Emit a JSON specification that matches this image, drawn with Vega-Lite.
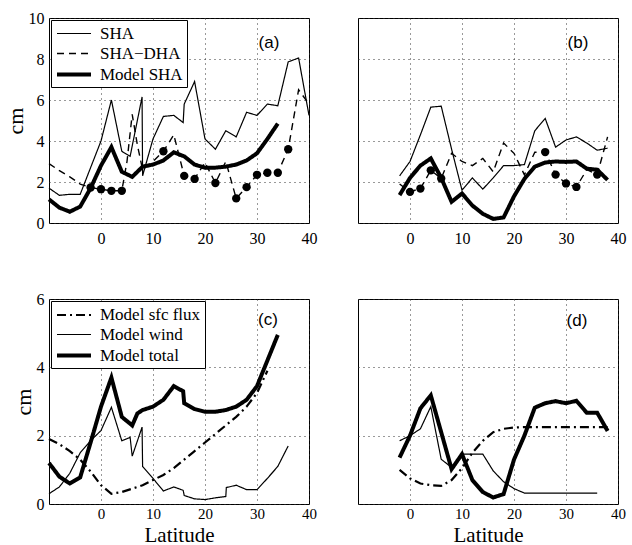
{
  "$schema": "https://vega.github.io/schema/vega-lite/v6.json",
  "background": "white",
  "padding": {"left": 3, "top": 9, "right": 5, "bottom": 3},
  "config": {
    "font": "Liberation Serif",
    "view": {"stroke": "black", "strokeWidth": 1},
    "axis": {
      "grid": true, "gridColor": "#333", "gridDash": [1, 4], "gridWidth": 1,
      "domain": false, "ticks": false, "labelFlush": false,
      "labelFont": "Liberation Serif", "labelFontSize": 16, "labelColor": "black",
      "titleFont": "Liberation Serif", "titleFontSize": 22, "titleFontWeight": "normal", "titleColor": "black"
    },
    "legend": {
      "orient": "top-left", "offset": 2, "padding": 4, "strokeColor": "black", "fillColor": "white",
      "labelFont": "Liberation Serif", "labelFontSize": 17, "labelColor": "black", "labelOffset": 24,
      "symbolType": "M-1,0H3", "symbolSize": 289, "symbolStrokeColor": "black", "symbolFillColor": "transparent", "rowPadding": 2, "cornerRadius": 0
    }
  },
  "datasets": {
    "a": [
      {"lat": -10, "v": 1.7, "s": "SHA"}, {"lat": -8, "v": 1.35, "s": "SHA"}, {"lat": -6, "v": 1.4, "s": "SHA"}, {"lat": -4, "v": 1.4, "s": "SHA"}, {"lat": -2, "v": 2.7, "s": "SHA"}, {"lat": 0, "v": 4.0, "s": "SHA"}, {"lat": 2, "v": 6.0, "s": "SHA"}, {"lat": 4, "v": 3.5, "s": "SHA"}, {"lat": 5.6, "v": 3.25, "s": "SHA"}, {"lat": 7.9, "v": 6.15, "s": "SHA"}, {"lat": 8, "v": 2.3, "s": "SHA"}, {"lat": 10, "v": 4.1, "s": "SHA"}, {"lat": 12, "v": 5.2, "s": "SHA"}, {"lat": 14, "v": 5.25, "s": "SHA"}, {"lat": 15.8, "v": 4.9, "s": "SHA"}, {"lat": 16, "v": 5.8, "s": "SHA"}, {"lat": 18, "v": 6.9, "s": "SHA"}, {"lat": 20, "v": 4.1, "s": "SHA"}, {"lat": 22, "v": 3.6, "s": "SHA"}, {"lat": 24, "v": 4.5, "s": "SHA"}, {"lat": 26, "v": 4.2, "s": "SHA"}, {"lat": 28, "v": 5.4, "s": "SHA"}, {"lat": 30, "v": 5.25, "s": "SHA"}, {"lat": 32, "v": 5.8, "s": "SHA"}, {"lat": 34, "v": 5.72, "s": "SHA"}, {"lat": 36, "v": 7.86, "s": "SHA"}, {"lat": 38, "v": 8.05, "s": "SHA"}, {"lat": 40, "v": 5.25, "s": "SHA"},
      {"lat": -10, "v": 2.9, "s": "SHA−DHA"}, {"lat": -8, "v": 2.55, "s": "SHA−DHA"}, {"lat": -6, "v": 2.25, "s": "SHA−DHA"}, {"lat": -4, "v": 1.9, "s": "SHA−DHA"}, {"lat": -2, "v": 1.73, "s": "SHA−DHA"}, {"lat": 0, "v": 1.65, "s": "SHA−DHA"}, {"lat": 2, "v": 1.57, "s": "SHA−DHA"}, {"lat": 4, "v": 1.57, "s": "SHA−DHA"}, {"lat": 5, "v": 3.0, "s": "SHA−DHA"}, {"lat": 6, "v": 5.3, "s": "SHA−DHA"}, {"lat": 7, "v": 3.8, "s": "SHA−DHA"}, {"lat": 8, "v": 2.6, "s": "SHA−DHA"}, {"lat": 10, "v": 3.0, "s": "SHA−DHA"}, {"lat": 12, "v": 3.5, "s": "SHA−DHA"}, {"lat": 14, "v": 4.3, "s": "SHA−DHA"}, {"lat": 16, "v": 2.3, "s": "SHA−DHA"}, {"lat": 18, "v": 2.15, "s": "SHA−DHA"}, {"lat": 20, "v": 2.95, "s": "SHA−DHA"}, {"lat": 22, "v": 1.95, "s": "SHA−DHA"}, {"lat": 24, "v": 3.0, "s": "SHA−DHA"}, {"lat": 26, "v": 1.2, "s": "SHA−DHA"}, {"lat": 28, "v": 1.75, "s": "SHA−DHA"}, {"lat": 30, "v": 2.35, "s": "SHA−DHA"}, {"lat": 32, "v": 2.45, "s": "SHA−DHA"}, {"lat": 34, "v": 2.45, "s": "SHA−DHA"}, {"lat": 36, "v": 3.6, "s": "SHA−DHA"}, {"lat": 38, "v": 6.5, "s": "SHA−DHA"}, {"lat": 40, "v": 5.8, "s": "SHA−DHA"},
      {"lat": -10, "v": 1.15, "s": "Model SHA"}, {"lat": -8, "v": 0.75, "s": "Model SHA"}, {"lat": -6, "v": 0.55, "s": "Model SHA"}, {"lat": -4, "v": 0.8, "s": "Model SHA"}, {"lat": -2, "v": 1.7, "s": "Model SHA"}, {"lat": 0, "v": 2.8, "s": "Model SHA"}, {"lat": 2, "v": 3.7, "s": "Model SHA"}, {"lat": 4, "v": 2.5, "s": "Model SHA"}, {"lat": 6, "v": 2.25, "s": "Model SHA"}, {"lat": 8, "v": 2.75, "s": "Model SHA"}, {"lat": 10, "v": 2.85, "s": "Model SHA"}, {"lat": 12, "v": 3.05, "s": "Model SHA"}, {"lat": 14, "v": 3.45, "s": "Model SHA"}, {"lat": 16, "v": 3.25, "s": "Model SHA"}, {"lat": 18, "v": 2.85, "s": "Model SHA"}, {"lat": 20, "v": 2.7, "s": "Model SHA"}, {"lat": 22, "v": 2.7, "s": "Model SHA"}, {"lat": 24, "v": 2.75, "s": "Model SHA"}, {"lat": 26, "v": 2.85, "s": "Model SHA"}, {"lat": 28, "v": 3.05, "s": "Model SHA"}, {"lat": 30, "v": 3.4, "s": "Model SHA"}, {"lat": 32, "v": 4.1, "s": "Model SHA"}, {"lat": 34, "v": 4.85, "s": "Model SHA"}
    ],
    "aDots": [
      {"lat": -2, "v": 1.73}, {"lat": 0, "v": 1.65}, {"lat": 2, "v": 1.57}, {"lat": 4, "v": 1.57}, {"lat": 12, "v": 3.5}, {"lat": 16, "v": 2.3}, {"lat": 18, "v": 2.15}, {"lat": 22, "v": 1.95}, {"lat": 26, "v": 1.2}, {"lat": 28, "v": 1.75}, {"lat": 30, "v": 2.35}, {"lat": 32, "v": 2.45}, {"lat": 34, "v": 2.45}, {"lat": 36, "v": 3.6}
    ],
    "b": [
      {"lat": -2, "v": 2.3, "s": "SHA"}, {"lat": 0, "v": 3.0, "s": "SHA"}, {"lat": 2, "v": 4.3, "s": "SHA"}, {"lat": 4, "v": 5.65, "s": "SHA"}, {"lat": 6, "v": 5.7, "s": "SHA"}, {"lat": 8, "v": 3.6, "s": "SHA"}, {"lat": 10, "v": 1.6, "s": "SHA"}, {"lat": 12, "v": 2.2, "s": "SHA"}, {"lat": 14, "v": 1.65, "s": "SHA"}, {"lat": 16, "v": 2.2, "s": "SHA"}, {"lat": 18, "v": 2.8, "s": "SHA"}, {"lat": 20, "v": 2.8, "s": "SHA"}, {"lat": 22, "v": 2.85, "s": "SHA"}, {"lat": 24, "v": 4.5, "s": "SHA"}, {"lat": 26, "v": 5.1, "s": "SHA"}, {"lat": 28, "v": 3.7, "s": "SHA"}, {"lat": 30, "v": 4.05, "s": "SHA"}, {"lat": 32, "v": 4.2, "s": "SHA"}, {"lat": 34, "v": 3.9, "s": "SHA"}, {"lat": 36, "v": 3.55, "s": "SHA"}, {"lat": 38, "v": 3.65, "s": "SHA"},
      {"lat": -2, "v": 1.9, "s": "SHA−DHA"}, {"lat": 0, "v": 1.52, "s": "SHA−DHA"}, {"lat": 2, "v": 1.68, "s": "SHA−DHA"}, {"lat": 4, "v": 2.57, "s": "SHA−DHA"}, {"lat": 6, "v": 2.17, "s": "SHA−DHA"}, {"lat": 8, "v": 3.4, "s": "SHA−DHA"}, {"lat": 10, "v": 3.0, "s": "SHA−DHA"}, {"lat": 12, "v": 2.8, "s": "SHA−DHA"}, {"lat": 14, "v": 3.15, "s": "SHA−DHA"}, {"lat": 16, "v": 2.5, "s": "SHA−DHA"}, {"lat": 18, "v": 3.9, "s": "SHA−DHA"}, {"lat": 20, "v": 3.4, "s": "SHA−DHA"}, {"lat": 22, "v": 2.35, "s": "SHA−DHA"}, {"lat": 24, "v": 3.45, "s": "SHA−DHA"}, {"lat": 26, "v": 3.46, "s": "SHA−DHA"}, {"lat": 28, "v": 2.36, "s": "SHA−DHA"}, {"lat": 30, "v": 1.93, "s": "SHA−DHA"}, {"lat": 32, "v": 1.76, "s": "SHA−DHA"}, {"lat": 34, "v": 2.6, "s": "SHA−DHA"}, {"lat": 36, "v": 2.36, "s": "SHA−DHA"}, {"lat": 38, "v": 4.2, "s": "SHA−DHA"},
      {"lat": -2, "v": 1.36, "s": "Model SHA"}, {"lat": 0, "v": 2.2, "s": "Model SHA"}, {"lat": 2, "v": 2.8, "s": "Model SHA"}, {"lat": 4, "v": 3.15, "s": "Model SHA"}, {"lat": 6, "v": 2.2, "s": "Model SHA"}, {"lat": 8, "v": 1.03, "s": "Model SHA"}, {"lat": 10, "v": 1.44, "s": "Model SHA"}, {"lat": 12, "v": 0.85, "s": "Model SHA"}, {"lat": 14, "v": 0.45, "s": "Model SHA"}, {"lat": 16, "v": 0.2, "s": "Model SHA"}, {"lat": 18, "v": 0.27, "s": "Model SHA"}, {"lat": 20, "v": 1.3, "s": "Model SHA"}, {"lat": 22, "v": 2.15, "s": "Model SHA"}, {"lat": 24, "v": 2.75, "s": "Model SHA"}, {"lat": 26, "v": 2.95, "s": "Model SHA"}, {"lat": 28, "v": 3.0, "s": "Model SHA"}, {"lat": 30, "v": 2.98, "s": "Model SHA"}, {"lat": 32, "v": 3.0, "s": "Model SHA"}, {"lat": 34, "v": 2.65, "s": "Model SHA"}, {"lat": 36, "v": 2.6, "s": "Model SHA"}, {"lat": 38, "v": 2.1, "s": "Model SHA"}
    ],
    "bDots": [
      {"lat": 0, "v": 1.52}, {"lat": 2, "v": 1.68}, {"lat": 4, "v": 2.57}, {"lat": 6, "v": 2.17}, {"lat": 26, "v": 3.46}, {"lat": 28, "v": 2.36}, {"lat": 30, "v": 1.93}, {"lat": 32, "v": 1.76}, {"lat": 36, "v": 2.36}
    ],
    "c": [
      {"lat": -10, "v": 1.9, "s": "Model sfc flux"}, {"lat": -8, "v": 1.75, "s": "Model sfc flux"}, {"lat": -6, "v": 1.55, "s": "Model sfc flux"}, {"lat": -4, "v": 1.3, "s": "Model sfc flux"}, {"lat": -2, "v": 0.95, "s": "Model sfc flux"}, {"lat": 0, "v": 0.55, "s": "Model sfc flux"}, {"lat": 2, "v": 0.3, "s": "Model sfc flux"}, {"lat": 4, "v": 0.35, "s": "Model sfc flux"}, {"lat": 6, "v": 0.45, "s": "Model sfc flux"}, {"lat": 8, "v": 0.55, "s": "Model sfc flux"}, {"lat": 10, "v": 0.7, "s": "Model sfc flux"}, {"lat": 12, "v": 0.85, "s": "Model sfc flux"}, {"lat": 14, "v": 1.05, "s": "Model sfc flux"}, {"lat": 16, "v": 1.3, "s": "Model sfc flux"}, {"lat": 18, "v": 1.55, "s": "Model sfc flux"}, {"lat": 20, "v": 1.8, "s": "Model sfc flux"}, {"lat": 22, "v": 2.05, "s": "Model sfc flux"}, {"lat": 24, "v": 2.3, "s": "Model sfc flux"}, {"lat": 26, "v": 2.55, "s": "Model sfc flux"}, {"lat": 28, "v": 2.85, "s": "Model sfc flux"}, {"lat": 30, "v": 3.25, "s": "Model sfc flux"}, {"lat": 32, "v": 3.9, "s": "Model sfc flux"},
      {"lat": -10, "v": 0.3, "s": "Model wind"}, {"lat": -8, "v": 0.5, "s": "Model wind"}, {"lat": -6, "v": 0.9, "s": "Model wind"}, {"lat": -4, "v": 1.5, "s": "Model wind"}, {"lat": -2, "v": 1.85, "s": "Model wind"}, {"lat": 0, "v": 2.15, "s": "Model wind"}, {"lat": 2, "v": 2.83, "s": "Model wind"}, {"lat": 4, "v": 1.85, "s": "Model wind"}, {"lat": 5.6, "v": 1.95, "s": "Model wind"}, {"lat": 6, "v": 1.4, "s": "Model wind"}, {"lat": 7.9, "v": 2.25, "s": "Model wind"}, {"lat": 8, "v": 1.1, "s": "Model wind"}, {"lat": 10, "v": 0.75, "s": "Model wind"}, {"lat": 12, "v": 0.38, "s": "Model wind"}, {"lat": 14, "v": 0.5, "s": "Model wind"}, {"lat": 15.8, "v": 0.4, "s": "Model wind"}, {"lat": 16, "v": 0.25, "s": "Model wind"}, {"lat": 18, "v": 0.15, "s": "Model wind"}, {"lat": 20, "v": 0.13, "s": "Model wind"}, {"lat": 22, "v": 0.18, "s": "Model wind"}, {"lat": 24, "v": 0.22, "s": "Model wind"}, {"lat": 24.1, "v": 0.48, "s": "Model wind"}, {"lat": 26, "v": 0.55, "s": "Model wind"}, {"lat": 28, "v": 0.42, "s": "Model wind"}, {"lat": 30, "v": 0.42, "s": "Model wind"}, {"lat": 32, "v": 0.75, "s": "Model wind"}, {"lat": 34, "v": 1.1, "s": "Model wind"}, {"lat": 36, "v": 1.7, "s": "Model wind"},
      {"lat": -10, "v": 1.2, "s": "Model total"}, {"lat": -8, "v": 0.8, "s": "Model total"}, {"lat": -6, "v": 0.6, "s": "Model total"}, {"lat": -4, "v": 0.78, "s": "Model total"}, {"lat": -2, "v": 1.8, "s": "Model total"}, {"lat": 0, "v": 2.85, "s": "Model total"}, {"lat": 2, "v": 3.7, "s": "Model total"}, {"lat": 4, "v": 2.55, "s": "Model total"}, {"lat": 6, "v": 2.3, "s": "Model total"}, {"lat": 7, "v": 2.65, "s": "Model total"}, {"lat": 8, "v": 2.75, "s": "Model total"}, {"lat": 10, "v": 2.85, "s": "Model total"}, {"lat": 12, "v": 3.05, "s": "Model total"}, {"lat": 14, "v": 3.45, "s": "Model total"}, {"lat": 15.8, "v": 3.3, "s": "Model total"}, {"lat": 16, "v": 2.95, "s": "Model total"}, {"lat": 18, "v": 2.78, "s": "Model total"}, {"lat": 20, "v": 2.7, "s": "Model total"}, {"lat": 22, "v": 2.7, "s": "Model total"}, {"lat": 24, "v": 2.75, "s": "Model total"}, {"lat": 26, "v": 2.85, "s": "Model total"}, {"lat": 28, "v": 3.05, "s": "Model total"}, {"lat": 30, "v": 3.45, "s": "Model total"}, {"lat": 32, "v": 4.2, "s": "Model total"}, {"lat": 34, "v": 4.95, "s": "Model total"}
    ],
    "d": [
      {"lat": -2, "v": 1.0, "s": "Model sfc flux"}, {"lat": 0, "v": 0.75, "s": "Model sfc flux"}, {"lat": 2, "v": 0.6, "s": "Model sfc flux"}, {"lat": 4, "v": 0.55, "s": "Model sfc flux"}, {"lat": 6, "v": 0.53, "s": "Model sfc flux"}, {"lat": 8, "v": 0.7, "s": "Model sfc flux"}, {"lat": 10, "v": 1.05, "s": "Model sfc flux"}, {"lat": 12, "v": 1.5, "s": "Model sfc flux"}, {"lat": 14, "v": 1.85, "s": "Model sfc flux"}, {"lat": 16, "v": 2.1, "s": "Model sfc flux"}, {"lat": 18, "v": 2.2, "s": "Model sfc flux"}, {"lat": 20, "v": 2.24, "s": "Model sfc flux"}, {"lat": 22, "v": 2.25, "s": "Model sfc flux"}, {"lat": 26, "v": 2.25, "s": "Model sfc flux"}, {"lat": 30, "v": 2.25, "s": "Model sfc flux"}, {"lat": 34, "v": 2.25, "s": "Model sfc flux"}, {"lat": 38, "v": 2.25, "s": "Model sfc flux"},
      {"lat": -2, "v": 1.85, "s": "Model wind"}, {"lat": 0, "v": 2.0, "s": "Model wind"}, {"lat": 2, "v": 2.2, "s": "Model wind"}, {"lat": 4, "v": 2.85, "s": "Model wind"}, {"lat": 6, "v": 1.31, "s": "Model wind"}, {"lat": 8, "v": 1.07, "s": "Model wind"}, {"lat": 10, "v": 1.46, "s": "Model wind"}, {"lat": 12, "v": 1.46, "s": "Model wind"}, {"lat": 14, "v": 1.46, "s": "Model wind"}, {"lat": 16, "v": 0.97, "s": "Model wind"}, {"lat": 18, "v": 0.65, "s": "Model wind"}, {"lat": 20, "v": 0.45, "s": "Model wind"}, {"lat": 22, "v": 0.32, "s": "Model wind"}, {"lat": 26, "v": 0.32, "s": "Model wind"}, {"lat": 30, "v": 0.32, "s": "Model wind"}, {"lat": 36, "v": 0.32, "s": "Model wind"},
      {"lat": -2, "v": 1.36, "s": "Model total"}, {"lat": 0, "v": 2.0, "s": "Model total"}, {"lat": 2, "v": 2.8, "s": "Model total"}, {"lat": 4, "v": 3.18, "s": "Model total"}, {"lat": 6, "v": 2.1, "s": "Model total"}, {"lat": 8, "v": 1.02, "s": "Model total"}, {"lat": 10, "v": 1.46, "s": "Model total"}, {"lat": 12, "v": 0.7, "s": "Model total"}, {"lat": 14, "v": 0.35, "s": "Model total"}, {"lat": 16, "v": 0.19, "s": "Model total"}, {"lat": 18, "v": 0.29, "s": "Model total"}, {"lat": 20, "v": 1.3, "s": "Model total"}, {"lat": 22, "v": 2.0, "s": "Model total"}, {"lat": 24, "v": 2.82, "s": "Model total"}, {"lat": 26, "v": 2.95, "s": "Model total"}, {"lat": 28, "v": 3.01, "s": "Model total"}, {"lat": 30, "v": 2.95, "s": "Model total"}, {"lat": 32, "v": 3.02, "s": "Model total"}, {"lat": 34, "v": 2.67, "s": "Model total"}, {"lat": 36, "v": 2.67, "s": "Model total"}, {"lat": 38, "v": 2.14, "s": "Model total"}
    ]
  },
  "columns": 2,
  "bounds": "flush",
  "spacing": {"row": 76, "column": 49},
  "resolve": {"scale": {"strokeDash": "independent", "strokeWidth": "independent"}, "legend": {"strokeDash": "independent", "strokeWidth": "independent"}},
  "concat": [
    {
      "width": 260, "height": 205,
      "layer": [
        {
          "data": {"name": "a"},
          "mark": {"type": "line", "color": "black", "strokeCap": "butt"},
          "encoding": {
            "x": {"field": "lat", "type": "quantitative", "scale": {"domain": [-10, 40], "nice": false}, "axis": {"values": [0, 10, 20, 30, 40], "title": null, "labelPadding": 7}},
            "y": {"field": "v", "type": "quantitative", "scale": {"domain": [0, 10], "nice": false}, "axis": {"values": [0, 1, 2, 3, 4, 5, 6, 7, 8, 9, 10], "labelExpr": "datum.value % 2 === 0 ? datum.label : ''", "title": "cm", "labelPadding": 5, "titlePadding": 1}},
            "strokeDash": {"field": "s", "type": "nominal", "scale": {"domain": ["SHA", "SHA−DHA", "Model SHA"], "range": [[1, 0], [7, 5], [1, 0]]}, "legend": {"title": null}},
            "strokeWidth": {"field": "s", "type": "nominal", "scale": {"type": "ordinal", "domain": ["SHA", "SHA−DHA", "Model SHA"], "range": [1.2, 1.4, 4]}, "legend": {"title": null}}
          }
        },
        {
          "data": {"name": "aDots"},
          "mark": {"type": "circle", "color": "black", "size": 70, "opacity": 1},
          "encoding": {"x": {"field": "lat", "type": "quantitative"}, "y": {"field": "v", "type": "quantitative"}}
        },
        {
          "data": {"values": [{"t": "(a)"}]},
          "mark": {"type": "text", "font": "Liberation Sans", "fontSize": 17, "color": "black"},
          "encoding": {"x": {"datum": 32.3}, "y": {"datum": 8.8}, "text": {"field": "t"}}
        }
      ]
    },
    {
      "width": 260, "height": 205,
      "layer": [
        {
          "data": {"name": "b"},
          "mark": {"type": "line", "color": "black", "strokeCap": "butt"},
          "encoding": {
            "x": {"field": "lat", "type": "quantitative", "scale": {"domain": [-10, 40], "nice": false}, "axis": {"values": [0, 10, 20, 30, 40], "title": null, "labelPadding": 7}},
            "y": {"field": "v", "type": "quantitative", "scale": {"domain": [0, 10], "nice": false}, "axis": {"values": [0, 1, 2, 3, 4, 5, 6, 7, 8, 9, 10], "labels": false, "title": null}},
            "strokeDash": {"field": "s", "type": "nominal", "scale": {"domain": ["SHA", "SHA−DHA", "Model SHA"], "range": [[1, 0], [7, 5], [1, 0]]}, "legend": null},
            "strokeWidth": {"field": "s", "type": "nominal", "scale": {"type": "ordinal", "domain": ["SHA", "SHA−DHA", "Model SHA"], "range": [1.2, 1.4, 4]}, "legend": null}
          }
        },
        {
          "data": {"name": "bDots"},
          "mark": {"type": "circle", "color": "black", "size": 70, "opacity": 1},
          "encoding": {"x": {"field": "lat", "type": "quantitative"}, "y": {"field": "v", "type": "quantitative"}}
        },
        {
          "data": {"values": [{"t": "(b)"}]},
          "mark": {"type": "text", "font": "Liberation Sans", "fontSize": 17, "color": "black"},
          "encoding": {"x": {"datum": 32.3}, "y": {"datum": 8.8}, "text": {"field": "t"}}
        }
      ]
    },
    {
      "width": 260, "height": 205,
      "layer": [
        {
          "data": {"name": "c"},
          "mark": {"type": "line", "color": "black", "strokeCap": "butt"},
          "encoding": {
            "x": {"field": "lat", "type": "quantitative", "scale": {"domain": [-10, 40], "nice": false}, "axis": {"values": [0, 10, 20, 30, 40], "title": "Latitude", "labelFontSize": 15, "labelPadding": 2, "titlePadding": 3, "titleFontSize": 21}},
            "y": {"field": "v", "type": "quantitative", "scale": {"domain": [0, 6], "nice": false}, "axis": {"values": [0, 1, 2, 3, 4, 5, 6], "title": "cm", "labelPadding": 5, "titlePadding": 1}},
            "strokeDash": {"field": "s", "type": "nominal", "scale": {"domain": ["Model sfc flux", "Model wind", "Model total"], "range": [[9, 4, 2, 4], [1, 0], [1, 0]]}, "legend": {"title": null}},
            "strokeWidth": {"field": "s", "type": "nominal", "scale": {"type": "ordinal", "domain": ["Model sfc flux", "Model wind", "Model total"], "range": [2.2, 1.2, 4]}, "legend": {"title": null}}
          }
        },
        {
          "data": {"values": [{"t": "(c)"}]},
          "mark": {"type": "text", "font": "Liberation Sans", "fontSize": 17, "color": "black"},
          "encoding": {"x": {"datum": 32.1}, "y": {"datum": 5.38}, "text": {"field": "t"}}
        }
      ]
    },
    {
      "width": 260, "height": 205,
      "layer": [
        {
          "data": {"name": "d"},
          "mark": {"type": "line", "color": "black", "strokeCap": "butt"},
          "encoding": {
            "x": {"field": "lat", "type": "quantitative", "scale": {"domain": [-10, 40], "nice": false}, "axis": {"values": [0, 10, 20, 30, 40], "title": "Latitude", "labelFontSize": 15, "labelPadding": 2, "titlePadding": 3, "titleFontSize": 21}},
            "y": {"field": "v", "type": "quantitative", "scale": {"domain": [0, 6], "nice": false}, "axis": {"values": [0, 1, 2, 3, 4, 5, 6], "labels": false, "title": null}},
            "strokeDash": {"field": "s", "type": "nominal", "scale": {"domain": ["Model sfc flux", "Model wind", "Model total"], "range": [[9, 4, 2, 4], [1, 0], [1, 0]]}, "legend": null},
            "strokeWidth": {"field": "s", "type": "nominal", "scale": {"type": "ordinal", "domain": ["Model sfc flux", "Model wind", "Model total"], "range": [2.2, 1.2, 4]}, "legend": null}
          }
        },
        {
          "data": {"values": [{"t": "(d)"}]},
          "mark": {"type": "text", "font": "Liberation Sans", "fontSize": 17, "color": "black"},
          "encoding": {"x": {"datum": 32.1}, "y": {"datum": 5.35}, "text": {"field": "t"}}
        }
      ]
    }
  ]
}
